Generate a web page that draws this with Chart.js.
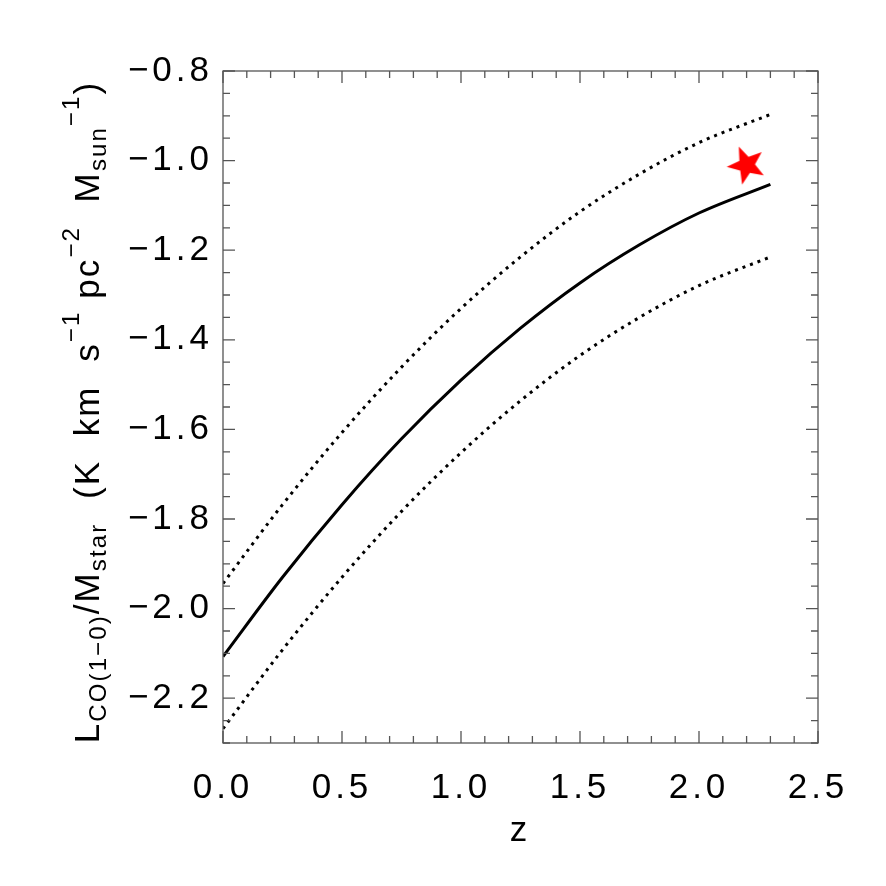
<!DOCTYPE html>
<html><head><meta charset="utf-8">
<script src="https://cdn.jsdelivr.net/npm/chart.js@4.4.1/dist/chart.umd.min.js"></script>
<style>html,body{margin:0;padding:0;background:#fff}</style>
</head><body>
<canvas id="c" width="886" height="886"></canvas>
<script>
// ---- data ----
const zValues     = [0, 0.25, 0.5, 0.75, 1.0, 1.25, 1.5, 1.75, 2.0, 2.3];
const modelMedian = [-2.107, -1.930, -1.768, -1.621, -1.490, -1.374, -1.273, -1.188, -1.117, -1.053];
const modelUpper  = [-1.944, -1.768, -1.607, -1.461, -1.330, -1.215, -1.114, -1.030, -0.960, -0.897];
const modelLower  = [-2.268, -2.092, -1.930, -1.783, -1.652, -1.536, -1.435, -1.350, -1.279, -1.215];
const starZ = [2.2];
const starL = [-1.01];
const xTickValues = [0.0, 0.5, 1.0, 1.5, 2.0, 2.5];
const yTickValues = [-2.2, -2.0, -1.8, -1.6, -1.4, -1.2, -1.0, -0.8];
const xTitle = 'z';
const yTitleParts = [
  ['L','n'], ['CO(1\u22120)','sub'], ['/','n'], ['M','n'], ['star','sub'],
  ['  (K  km  s','n'], ['\u22121','sup'], [' pc','n'], ['\u22122','sup'],
  ['  M','n'], ['sun','sub'], ['\u22121','sup'], [')','n']
];

const FONT = 'Liberation Sans';
const pts = (ys) => zValues.map((z, i) => ({x: z, y: ys[i]}));

// red five-pointed star marker
function makeStar(R, ratio, rotDeg, color) {
  const s = Math.ceil(R * 2 + 4);
  const cv = document.createElement('canvas');
  cv.width = s; cv.height = s;
  const g = cv.getContext('2d');
  g.translate(s / 2, s / 2);
  g.beginPath();
  for (let k = 0; k < 10; k++) {
    const r = k % 2 === 0 ? R : R * ratio;
    const a = (-90 + rotDeg + k * 36) * Math.PI / 180;
    const px = r * Math.cos(a), py = r * Math.sin(a);
    k === 0 ? g.moveTo(px, py) : g.lineTo(px, py);
  }
  g.closePath();
  g.fillStyle = color;
  g.fill();
  return cv;
}
const starImg = makeStar(20, 0.42, -23, '#ff0000');

const axisColor = '#555';

const framePlugin = {
  id: 'frameTicks',
  beforeDraw(chart) { chart.ctx.letterSpacing = '4px'; },
  afterDraw(chart) {
    const ctx = chart.ctx;
    ctx.letterSpacing = '0px';
    const xs = chart.scales.x, ys = chart.scales.y;
    const L = xs.getPixelForValue(0), R = xs.getPixelForValue(2.5);
    const T = ys.getPixelForValue(-0.8), B = ys.getPixelForValue(-2.3);
    ctx.save();
    ctx.strokeStyle = axisColor;
    ctx.lineWidth = 1.3;
    ctx.strokeRect(L, T, R - L, B - T);
    ctx.beginPath();
    // x ticks (minor every 0.1)
    for (let i = 0; i <= 25; i++) {
      const v = i / 10;
      const px = xs.getPixelForValue(v);
      const major = xTickValues.some(t => Math.abs(t - v) < 1e-6);
      const len = major ? 12 : 7;
      ctx.moveTo(px, B); ctx.lineTo(px, B - len);
      ctx.moveTo(px, T); ctx.lineTo(px, T + len);
    }
    // y ticks (minor every 0.05)
    for (let i = 0; i <= 30; i++) {
      const v = -2.3 + i * 0.05;
      const py = ys.getPixelForValue(v);
      const major = yTickValues.some(t => Math.abs(t - v) < 1e-6);
      const len = major ? 12 : 7;
      ctx.moveTo(L, py); ctx.lineTo(L + len, py);
      ctx.moveTo(R, py); ctx.lineTo(R - len, py);
    }
    ctx.stroke();
    ctx.restore();

    // rotated y-axis title with sub/superscripts
    ctx.save();
    ctx.fillStyle = '#000';
    ctx.textBaseline = 'alphabetic';
    ctx.textAlign = 'left';
    const mainF = '35px "' + FONT + '"', smallF = '24px "' + FONT + '"';
    ctx.letterSpacing = '2.1px';
    let total = 0;
    const widths = yTitleParts.map(([t, k]) => {
      ctx.font = k === 'n' ? mainF : smallF;
      const w = ctx.measureText(t).width;
      total += w;
      return w;
    });
    const cy = (T + B) / 2 + 5;
    ctx.translate(99, cy + total / 2);
    ctx.rotate(-Math.PI / 2);
    let x = 0;
    yTitleParts.forEach(([t, k], i) => {
      ctx.font = k === 'n' ? mainF : smallF;
      const dy = k === 'sub' ? 7 : (k === 'sup' ? -20 : 0);
      ctx.fillText(t, x, dy);
      x += widths[i];
    });
    ctx.restore();
  }
};

new Chart(document.getElementById('c'), {
  type: 'line',
  data: {
    datasets: [
      { label: 'star', data: starZ.map((z, i) => ({x: z, y: starL[i]})), showLine: false,
        pointStyle: starImg, pointRadius: 10, borderColor: '#ff0000', backgroundColor: '#ff0000' },
      { label: 'median', data: pts(modelMedian), borderColor: '#000', borderWidth: 3,
        pointRadius: 0, cubicInterpolationMode: 'monotone', fill: false },
      { label: 'upper', data: pts(modelUpper), borderColor: '#000', borderWidth: 3,
        borderDash: [3, 5], pointRadius: 0, cubicInterpolationMode: 'monotone', fill: false },
      { label: 'lower', data: pts(modelLower), borderColor: '#000', borderWidth: 3,
        borderDash: [3, 5], pointRadius: 0, cubicInterpolationMode: 'monotone', fill: false }
    ]
  },
  options: {
    responsive: false,
    animation: false,
    devicePixelRatio: 1,
    layout: { padding: { top: 71, right: 68, left: 0, bottom: 0 } },
    plugins: { legend: { display: false }, tooltip: { enabled: false } },
    scales: {
      x: {
        type: 'linear', min: 0, max: 2.5,
        grid: { display: false, drawTicks: false }, border: { display: false },
        afterBuildTicks: (s) => { s.ticks = xTickValues.map(v => ({value: v})); },
        afterFit: (s) => { s.height = 886 - 743; },
        ticks: { autoSkip: false, maxRotation: 0, padding: 24, color: '#000',
                 font: { family: FONT, size: 35 },
                 callback: (v) => Number(v).toFixed(1) },
        title: { display: true, text: xTitle, color: '#000', font: { family: FONT, size: 35 },
                 padding: { top: 0, bottom: 34 } }
      },
      y: {
        type: 'linear', min: -2.3, max: -0.8,
        grid: { display: false, drawTicks: false }, border: { display: false },
        afterBuildTicks: (s) => { s.ticks = yTickValues.map(v => ({value: v})); },
        afterFit: (s) => { s.width = 223; },
        ticks: { autoSkip: false, padding: 10, color: '#000',
                 font: { family: FONT, size: 35 },
                 callback: (v) => (v < 0 ? '\u2212' : '') + Math.abs(Number(v)).toFixed(1) }
      }
    }
  },
  plugins: [framePlugin]
});
</script>
</body></html>
